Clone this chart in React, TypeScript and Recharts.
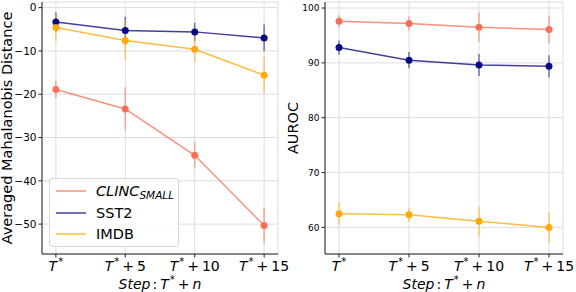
import React from 'react';
import { LineChart, Line, XAxis, YAxis, CartesianGrid, ErrorBar, Legend } from 'recharts';

// ---- data ----
const steps = [0, 5, 10, 15];
const seriesNames = ['CLINC', 'SST2', 'IMDB'];

const clincDist = [-18.9, -23.4, -34.1, -50.3];
const clincDistErr = [2.0, 5.0, 3.0, 4.1];
const sst2Dist = [-3.3, -5.3, -5.6, -7.0];
const sst2DistErr = [2.2, 3.2, 2.1, 3.1];
const imdbDist = [-4.6, -7.6, -9.6, -15.6];
const imdbDistErr = [3.1, 4.5, 3.0, 4.2];

const clincAuroc = [97.6, 97.2, 96.5, 96.1];
const clincAurocErr = [1.1, 1.3, 2.7, 2.5];
const sst2Auroc = [92.8, 90.5, 89.6, 89.4];
const sst2AurocErr = [1.3, 1.5, 2.0, 2.0];
const imdbAuroc = [62.5, 62.3, 61.1, 60.0];
const imdbAurocErr = [2.1, 1.3, 2.7, 2.8];

const distTicks = [-50, -40, -30, -20, -10, 0];
const aurocTicks = [60, 70, 80, 90, 100];

// ---- styles ----
const COLORS = { CLINC: '#f86a52', SST2: '#000080', IMDB: '#ffa500' };
const FONT = 'DejaVu Sans, sans-serif';
const GRID = '#dddddd';
const SPINE = '#222222';

const leftData = steps.map((n, i) => ({
  n,
  clinc: clincDist[i], clincErr: clincDistErr[i],
  sst2: sst2Dist[i], sst2Err: sst2DistErr[i],
  imdb: imdbDist[i], imdbErr: imdbDistErr[i],
}));
const rightData = steps.map((n, i) => ({
  n,
  clinc: clincAuroc[i], clincErr: clincAurocErr[i],
  sst2: sst2Auroc[i], sst2Err: sst2AurocErr[i],
  imdb: imdbAuroc[i], imdbErr: imdbAurocErr[i],
}));

const fmtNum = (v: number) => (v < 0 ? '\u2212' + Math.abs(v) : String(v));

const XTick = (props: any) => {
  const { x, y, payload } = props;
  const n = payload.value;
  return (
    <text x={x} y={y + 11} textAnchor="middle" fontFamily={FONT} fontSize={14} fill="#000">
      <tspan fontStyle="italic">T</tspan>
      <tspan dx={1} dy={-6} fontSize={10}>*</tspan>
      {n > 0 ? (
        <>
          <tspan dx={3} dy={6}>+</tspan>
          <tspan dx={3}>{n}</tspan>
        </>
      ) : null}
    </text>
  );
};

const XTitle = (props: any) => {
  const { plotLeft, plotRight } = props;
  const cx = (plotLeft + plotRight) / 2;
  return (
    <text x={cx} y={289} textAnchor="middle" fontFamily={FONT} fontSize={14} fill="#000">
      <tspan fontStyle="italic">Step</tspan>
      <tspan dx={2}>:</tspan>
      <tspan dx={3} fontStyle="italic">T</tspan>
      <tspan dx={1} dy={-6} fontSize={10}>*</tspan>
      <tspan dx={3} dy={6}>+</tspan>
      <tspan dx={3} fontStyle="italic">n</tspan>
    </text>
  );
};

const YTitle = (props: any) => {
  const { text, cxOffset } = props;
  const vb = props.viewBox || { x: 0, y: 2, width: 42, height: 252 };
  const cx = vb.x + cxOffset;
  const cy = vb.y + vb.height / 2;
  return (
    <text
      x={cx}
      y={cy}
      transform={`rotate(-90, ${cx}, ${cy})`}
      textAnchor="middle"
      dominantBaseline="central"
      fontFamily={FONT}
      fontSize={14.5}
      fill="#000"
    >
      {text}
    </text>
  );
};

const LegendBox = (props: any) => {
  const payload = [...(props.payload || [])].sort(
    (a: any, b: any) => seriesNames.indexOf(a.value) - seriesNames.indexOf(b.value)
  );
  return (
    <div
      style={{
        width: 130,
        height: 69,
        boxSizing: 'border-box',
        border: '1px solid #d6d6d6',
        borderRadius: 3,
        background: 'rgba(255,255,255,0.85)',
        position: 'relative',
        fontFamily: FONT,
        fontSize: 14.5,
        color: '#000',
      }}
    >
      {payload.map((entry: any, i: number) => (
        <div
          key={i}
          style={{ position: 'absolute', left: 0, top: 12 + i * 21.5 - 10, height: 20, width: 128, lineHeight: '20px' }}
        >
          <svg width={40} height={20} style={{ position: 'absolute', left: 0, top: 0 }}>
            <line x1={6} x2={36} y1={10} y2={10} stroke={entry.color} strokeOpacity={0.75} strokeWidth={1.5} />
          </svg>
          <span style={{ position: 'absolute', left: 46, top: 0, whiteSpace: 'nowrap' }}>
            {entry.value === 'CLINC' ? (
              <span style={{ fontStyle: 'italic' }}>
                CLINC<sub style={{ fontSize: 10.5, verticalAlign: '-3px', lineHeight: 0 }}>SMALL</sub>
              </span>
            ) : (
              entry.value
            )}
          </span>
        </div>
      ))}
    </div>
  );
};

const renderSeries = () =>
  (['clinc', 'sst2', 'imdb'] as const).map((key, i) => {
    const name = seriesNames[i];
    const c = (COLORS as any)[name];
    return (
      <Line
        key={key}
        type="linear"
        dataKey={key}
        name={name}
        stroke={c}
        strokeOpacity={0.75}
        strokeWidth={1.5}
        dot={{ r: 3.5, fill: c, stroke: 'none', fillOpacity: 0.95 }}
        activeDot={false}
        legendType="line"
        isAnimationActive={false}
      >
        <ErrorBar
          dataKey={key + 'Err'}
          width={0}
          stroke={c}
          strokeOpacity={0.5}
          strokeWidth={1.6}
          direction="y"
          isAnimationActive={false}
        />
      </Line>
    );
  });

export default function App() {
  return (
    <div style={{ position: 'absolute', left: 0, top: 0, width: 576, height: 292, background: '#fff' }}>
      <div style={{ position: 'absolute', left: 286, top: 0 }}>
        <LineChart width={290} height={292} data={rightData} margin={{ top: 2, right: 13, bottom: 0, left: 0 }}>
          <CartesianGrid stroke={GRID} strokeWidth={1} />
          <XAxis
            dataKey="n"
            type="number"
            domain={[-1, 16]}
            ticks={steps}
            height={38}
            tick={<XTick />}
            tickSize={3.5}
            tickLine={{ stroke: SPINE }}
            axisLine={{ stroke: SPINE }}
            interval={0}
            label={<XTitle plotLeft={39} plotRight={277} />}
            allowDataOverflow
          />
          <XAxis xAxisId="top" orientation="top" type="number" domain={[-1, 16]} height={0} tick={false} tickLine={false} axisLine={{ stroke: SPINE }} />
          <YAxis
            type="number"
            domain={[55.15, 101.1]}
            ticks={aurocTicks}
            width={39}
            tickFormatter={fmtNum}
            tick={{ fontFamily: FONT, fontSize: 9, fill: '#000' }}
            tickSize={3.5}
            tickMargin={2}
            tickLine={{ stroke: SPINE }}
            axisLine={{ stroke: SPINE }}
            interval={0}
            allowDataOverflow
            label={<YTitle text="AUROC" cxOffset={7} />}
          />
          <YAxis yAxisId="right" orientation="right" width={0} tick={false} tickLine={false} axisLine={{ stroke: SPINE }} />
          {renderSeries()}
        </LineChart>
      </div>
      <div style={{ position: 'absolute', left: 0, top: 0 }}>
        <LineChart
          width={300}
          height={292}
          data={leftData}
          margin={{ top: 2, right: 22, bottom: 0, left: 0 }}
        >
          <CartesianGrid stroke={GRID} strokeWidth={1} />
          <XAxis
            dataKey="n"
            type="number"
            domain={[-1, 16]}
            ticks={steps}
            height={38}
            tick={<XTick />}
            tickSize={3.5}
            tickLine={{ stroke: SPINE }}
            axisLine={{ stroke: SPINE }}
            interval={0}
            label={<XTitle plotLeft={42} plotRight={278} />}
            allowDataOverflow
          />
          <XAxis xAxisId="top" orientation="top" type="number" domain={[-1, 16]} height={0} tick={false} tickLine={false} axisLine={{ stroke: SPINE }} />
          <YAxis
            type="number"
            domain={[-56.9, 1.3]}
            ticks={distTicks}
            width={42}
            tickFormatter={fmtNum}
            tick={{ fontFamily: FONT, fontSize: 10.5, fill: '#000' }}
            tickSize={3.5}
            tickMargin={2}
            tickLine={{ stroke: SPINE }}
            axisLine={{ stroke: SPINE }}
            interval={0}
            allowDataOverflow
            label={<YTitle text="Averaged Mahalanobis Distance" cxOffset={7} />}
          />
          <YAxis yAxisId="right" orientation="right" width={0} tick={false} tickLine={false} axisLine={{ stroke: SPINE }} />
          {renderSeries()}
          <Legend
            layout="vertical"
            align="center"
            verticalAlign="middle"
            itemSorter={null as any}
            content={<LegendBox />}
            wrapperStyle={{ position: 'absolute', left: 49, top: 178, width: 130, height: 69 }}
          />
        </LineChart>
      </div>
    </div>
  );
}
